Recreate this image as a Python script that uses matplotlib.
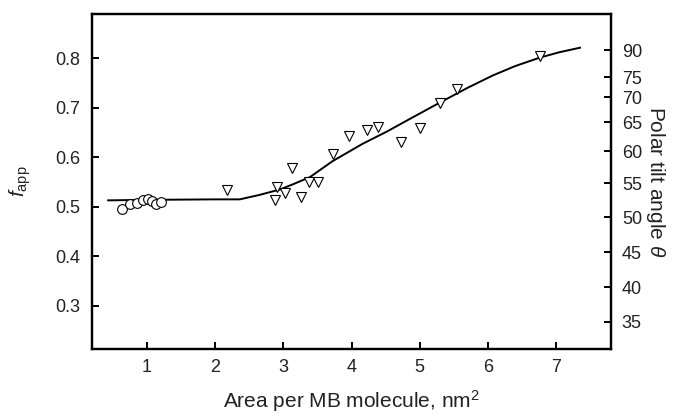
import numpy as np
import matplotlib
matplotlib.use("Agg")
import matplotlib.pyplot as plt

plt.rcParams['font.family'] = ['Liberation Sans', 'DejaVu Sans']
plt.rcParams['mathtext.fontset'] = 'custom'
plt.rcParams['mathtext.rm'] = 'Liberation Sans'
plt.rcParams['mathtext.it'] = 'Liberation Sans:italic'

# Circles (low area region)
circle_x = [0.63, 0.75, 0.85, 0.94, 1.01, 1.08, 1.13, 1.20]
circle_y = [0.496, 0.505, 0.508, 0.513, 0.516, 0.512, 0.506, 0.510]

# Down triangles
tri_x = [2.17, 2.87, 2.91, 3.03, 3.12, 3.26, 3.37, 3.50, 3.72, 3.96, 4.22,
         4.38, 4.72, 5.00, 5.29, 5.54, 6.76]
tri_y = [0.534, 0.514, 0.540, 0.528, 0.578, 0.520, 0.550, 0.550, 0.606, 0.643,
         0.655, 0.661, 0.631, 0.659, 0.710, 0.737, 0.804]

# Fitted curve
curve_x = [0.43, 1.0, 2.0, 2.36, 2.65, 2.95, 3.15, 3.39, 3.72, 4.16, 4.52,
           4.81, 5.29, 5.70, 6.07, 6.40, 6.76, 7.05, 7.35]
curve_y = [0.513, 0.514, 0.515, 0.515, 0.524, 0.535, 0.546, 0.560, 0.592, 0.627,
           0.652, 0.674, 0.710, 0.740, 0.765, 0.784, 0.801, 0.812, 0.821]

x_ticks = [1, 2, 3, 4, 5, 6, 7]
y_ticks = [0.3, 0.4, 0.5, 0.6, 0.7, 0.8]
angle_ticks = [35, 40, 45, 50, 55, 60, 65, 70, 75, 90]
f_scale = 0.816  # f_app = f_scale * sin^2(theta)

text_color = '#222222'

fig = plt.figure(figsize=(6.81, 4.16), dpi=100)
ax = fig.add_axes([0.1358, 0.161, 0.7610, 0.8065])

ax.plot(curve_x, curve_y, color='black', lw=1.4, zorder=2)
ax.plot(circle_x, circle_y, 'o', ms=7, mfc='white', mec='black', mew=0.8, zorder=3)
ax.plot(tri_x, tri_y, 'v', ms=7, mfc='white', mec='black', mew=0.8, zorder=3)

ax.set_xlim(0.2, 7.8)
ax.set_ylim(0.213, 0.890)
ax.set_xticks(x_ticks)
ax.set_yticks(y_ticks)
ax.set_yticklabels([f"{v:.1f}" for v in y_ticks])

for s in ax.spines.values():
    s.set_linewidth(1.6)

ax.tick_params(direction='in', length=5, width=1.4, labelsize=13, pad=7,
               labelcolor=text_color)
ax.tick_params(axis='y', pad=9)

ax.set_xlabel('Area per MB molecule, nm$^2$', fontsize=15, labelpad=9, color=text_color)
ax.set_ylabel('$f_{\\mathrm{app}}$', fontsize=15, labelpad=16, color=text_color)

ax2 = ax.twinx()
ax2.set_ylim(ax.get_ylim())
ax2.set_yticks([f_scale * np.sin(np.radians(a)) ** 2 for a in angle_ticks])
ax2.set_yticklabels([str(a) for a in angle_ticks])
ax2.tick_params(direction='in', length=5, width=1.4, labelsize=13, pad=8,
                labelcolor=text_color)
for s in ax2.spines.values():
    s.set_linewidth(1.6)
ax2.set_ylabel('Polar tilt angle $\\theta$', fontsize=15, rotation=270, labelpad=18,
               color=text_color)

fig.savefig('out.png', dpi=100)
